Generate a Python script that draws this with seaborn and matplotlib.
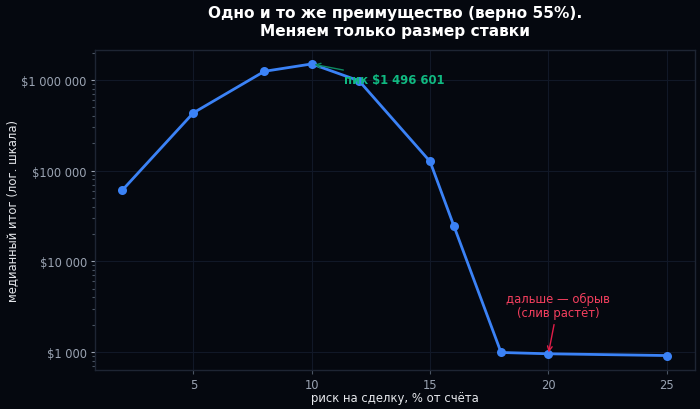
import pandas as pd
import numpy as np
import seaborn as sns
import matplotlib.pyplot as plt
from matplotlib.ticker import FuncFormatter, LogLocator

# data
risk = [2, 5, 8, 10, 12, 15, 16, 18, 20, 25]
median_final = [61000, 433000, 1241000, 1496601, 975000, 126000, 24800, 990, 958, 916]
peak_label = "пик $1 496 601"
cliff_label = "дальше — обрыв\n(слив растёт)"

data = pd.DataFrame({'risk': risk, 'final': median_final})

bg = '#05080f'
sns.set_theme(style="dark")
plt.rcParams['font.family'] = ['DejaVu Sans']

fig, ax = plt.subplots(figsize=(7, 4.1), dpi=100)
fig.patch.set_facecolor(bg)
ax.set_facecolor(bg)

sns.lineplot(data=data, x='risk', y='final', ax=ax, color='#3b82f6',
             marker='o', markersize=6.5, markeredgewidth=0, linewidth=2)

ax.set_yscale('log')
ax.set_ylim(634, 2.14e6)
ax.set_xlim(0.85, 26.2)
ax.set_xticks([5, 10, 15, 20, 25])
ax.yaxis.set_major_locator(LogLocator(base=10))
ax.yaxis.set_minor_locator(LogLocator(base=10, subs=np.arange(2, 10)))
ax.yaxis.set_major_formatter(FuncFormatter(lambda v, p: '$' + f'{v:,.0f}'.replace(',', ' ')))

#grid and frame
ax.grid(True, which='major', color='#111827', linewidth=0.8)
for s in ax.spines.values():
    s.set_color('#1e2533')
    s.set_linewidth(1)
ax.tick_params(axis='both', which='major', colors='#9aa3b2', labelsize=8.3,
               length=3, width=0.8, left=True, bottom=True, pad=3)
ax.tick_params(axis='y', which='minor', colors='#4b5563', length=2, width=0.8, left=True)
ax.tick_params(axis='x', colors='#4b5563', labelcolor='#9aa3b2')

ax.set_xlabel('риск на сделку, % от счёта', color='#e5e7eb', fontsize=8.4, labelpad=0)
ax.set_ylabel('медианный итог (лог. шкала)', color='#e5e7eb', fontsize=8.4, labelpad=2)
ax.set_title('Одно и то же преимущество (верно 55%).\nМеняем только размер ставки',
             color='white', fontsize=11.1, fontweight='bold', pad=11, linespacing=1.2)

# annotations
ax.annotate(peak_label, xy=(10, 1496601), xytext=(11.35, 1.0e6),
            color='#10b981', fontsize=8.4, fontweight='bold', ha='left', va='center',
            arrowprops=dict(arrowstyle='->', color='#0e8a62', lw=1, shrinkA=0, shrinkB=2))
ax.annotate(cliff_label, xy=(20, 958), xytext=(20.4, 3300),
            color='#f43f5e', fontsize=8.4, ha='center', va='center', linespacing=1.1,
            arrowprops=dict(arrowstyle='->', color='#e11d48', lw=1, shrinkA=2, shrinkB=1))

fig.subplots_adjust(left=0.136, right=0.993, top=0.876, bottom=0.095)
fig.savefig('out.png', dpi=100, facecolor=bg)
